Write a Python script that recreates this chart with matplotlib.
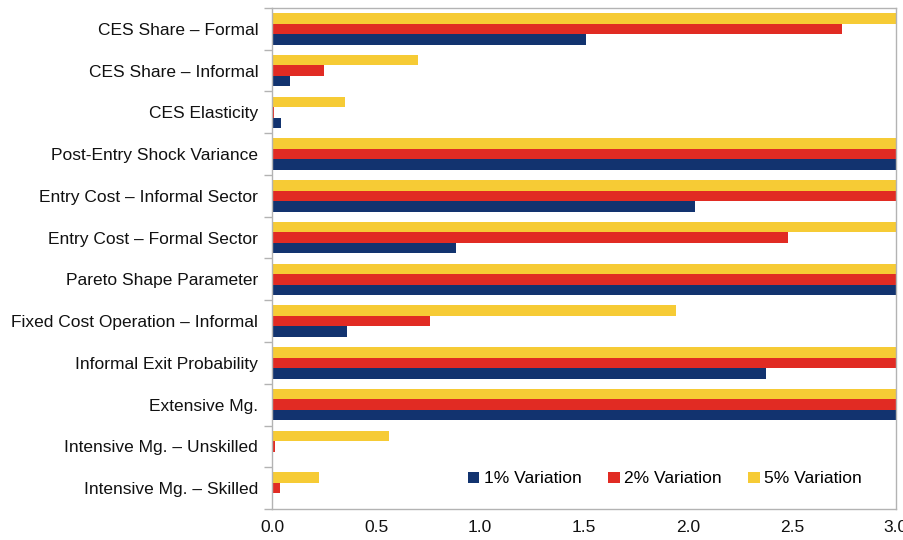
import numpy as np
import matplotlib
matplotlib.use("Agg")
import matplotlib.pyplot as plt
from matplotlib.ticker import FixedLocator, NullFormatter

plt.rcParams['font.family'] = ['Liberation Sans', 'DejaVu Sans']

parametros = [
    "CES Share – Formal",
    "CES Share – Informal",
    "CES Elasticity",
    "Post-Entry Shock Variance",
    "Entry Cost – Informal Sector",
    "Entry Cost – Formal Sector",
    "Pareto Shape Parameter",
    "Fixed Cost Operation – Informal",
    "Informal Exit Probability",
    "Extensive Mg.",
    "Intensive Mg. – Unskilled",
    "Intensive Mg. – Skilled",
]

# valores por encima de 3.0 quedan cortados por el eje
var_1 = [1.51, 0.085, 0.042, 3.0, 2.034, 0.884, 3.0, 0.36, 2.375, 3.0, 0.002, 0.002]
var_2 = [2.74, 0.252, 0.008, 3.0, 3.0, 2.48, 3.0, 0.759, 3.0, 3.0, 0.015, 0.037]
var_5 = [3.0, 0.70, 0.35, 3.0, 3.0, 3.0, 3.0, 1.941, 3.0, 3.0, 0.56, 0.227]

series = ["1% Variation", "2% Variation", "5% Variation"]
colores = ["#12336f", "#e12b23", "#f6cb35"]

fig = plt.figure(figsize=(9.04, 5.4), dpi=100)
ax = fig.add_axes([0.301, 0.0574, 0.690, 0.9278])

y = np.arange(len(parametros))
h = 0.25
for vals, off, lab, col in zip([var_1, var_2, var_5], [h, 0, -h], series, colores):
    ax.barh(y + off, vals, height=h, color=col, label=lab, linewidth=0)

fs = 12.5
ax.set_xlim(0, 3.0)
ax.set_ylim(len(parametros) - 0.5, -0.5)
ax.set_xticks(np.arange(0, 3.01, 0.5))
ax.set_xticklabels([f"{v:.1f}" for v in np.arange(0, 3.01, 0.5)])
ax.set_yticks(y)
ax.set_yticklabels(parametros)
ax.yaxis.set_minor_locator(FixedLocator(np.arange(-0.5, len(parametros), 1)))
ax.yaxis.set_minor_formatter(NullFormatter())
ax.tick_params(axis='y', which='major', length=0, pad=10, labelsize=fs, colors='#111111')
ax.tick_params(axis='y', which='minor', length=6, color='#b3b3b3', width=1)
ax.tick_params(axis='x', length=0, pad=8, labelsize=fs, colors='#111111')
for s in ax.spines.values():
    s.set_color('#b3b3b3')
    s.set_linewidth(1)

ax.legend(loc='center left', bbox_to_anchor=(0.314, 0.06), ncol=3, frameon=False,
          handlelength=0.65, handleheight=0.65, handletextpad=0.25, columnspacing=1.55,
          fontsize=fs, borderaxespad=0, borderpad=0)

fig.savefig("out.png", dpi=100)
